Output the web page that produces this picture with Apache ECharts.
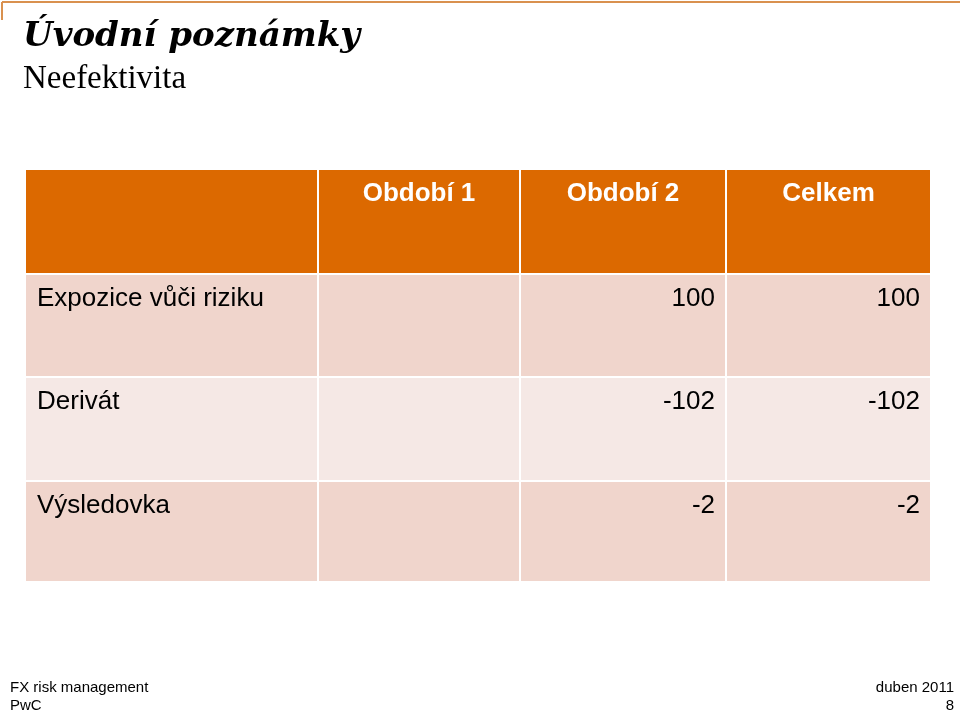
<!DOCTYPE html>
<html><head><meta charset="utf-8">
<script src="https://cdn.jsdelivr.net/npm/echarts@6/dist/echarts.min.js"></script>
<style>html,body{margin:0;padding:0;background:#fff}#c{width:960px;height:714px}</style>
</head><body><div id="c"></div>
<script>
const headers = ['', 'Období 1', 'Období 2', 'Celkem'];
const rowLabels = ['Expozice vůči riziku', 'Derivát', 'Výsledovka'];
const obdobi1 = ['', '', ''];
const obdobi2 = ['100', '-102', '-2'];
const celkem = ['100', '-102', '-2'];

const colEdges = [0, 291, 493, 699, 904];
const rowEdges = [0, 103, 206, 310, 411];
const rowColors = ['#DC6900', '#F0D5CC', '#F5E8E5', '#F0D5CC'];

const cells = [];
headers.forEach((h, c) => cells.push([c, 0, h]));
rowLabels.forEach((l, r) => {
  cells.push([0, r + 1, l]);
  cells.push([1, r + 1, obdobi1[r]]);
  cells.push([2, r + 1, obdobi2[r]]);
  cells.push([3, r + 1, celkem[r]]);
});

const chart = echarts.init(document.getElementById('c'));
chart.setOption({
  animation: false,
  grid: { left: 26, right: 30, top: 170, bottom: 133 },
  xAxis: { type: 'value', min: 0, max: 904, show: false },
  yAxis: { type: 'value', min: 0, max: 411, inverse: true, show: false },
  graphic: [
    { type: 'line', shape: { x1: 2, y1: 2, x2: 960, y2: 2 }, style: { stroke: '#D9914F', lineWidth: 2 } },
    { type: 'line', shape: { x1: 2, y1: 2, x2: 2, y2: 20 }, style: { stroke: '#D9914F', lineWidth: 2 } },
    { type: 'text', left: 23, top: 20, style: { text: 'Úvodní poznámky', font: 'italic bold 34px "DejaVu Serif"', fill: '#000' } },
    { type: 'text', left: 23, top: 63, style: { text: 'Neefektivita', font: '33px "Liberation Serif"', fill: '#000' } },
    { type: 'text', left: 10, top: 680, style: { text: 'FX risk management', font: '15px "Liberation Sans"', fill: '#000' } },
    { type: 'text', left: 10, top: 698, style: { text: 'PwC', font: '15px "Liberation Sans"', fill: '#000' } },
    { type: 'text', right: 6, top: 680, style: { text: 'duben 2011', font: '15px "Liberation Sans"', fill: '#000', align: 'right' } },
    { type: 'text', right: 6, top: 698, style: { text: '8', font: '15px "Liberation Sans"', fill: '#000', align: 'right' } }
  ],
  series: [{
    type: 'custom',
    data: cells,
    renderItem: function (params, api) {
      const c = api.value(0), r = api.value(1);
      const txt = cells[params.dataIndex][2];
      const p0 = api.coord([colEdges[c], rowEdges[r]]);
      const p1 = api.coord([colEdges[c + 1], rowEdges[r + 1]]);
      const x = p0[0] + (c > 0 ? 2 : 0), y = p0[1] + (r > 0 ? 2 : 0);
      const w = p1[0] - x, h = p1[1] - y;
      const header = r === 0;
      let tx, align;
      if (header) { tx = x + w / 2; align = 'center'; }
      else if (c === 0) { tx = x + 11; align = 'left'; }
      else { tx = x + w - 10; align = 'right'; }
      return {
        type: 'group',
        children: [
          { type: 'rect', shape: { x: x, y: y, width: w, height: h }, style: { fill: rowColors[r] } },
          { type: 'text', style: { x: tx, y: y + 24, text: txt, align: align, verticalAlign: 'middle',
              font: (header ? 'bold ' : '') + '26px "Liberation Sans"', fill: header ? '#fff' : '#000' } }
        ]
      };
    }
  }]
});
</script></body></html>
